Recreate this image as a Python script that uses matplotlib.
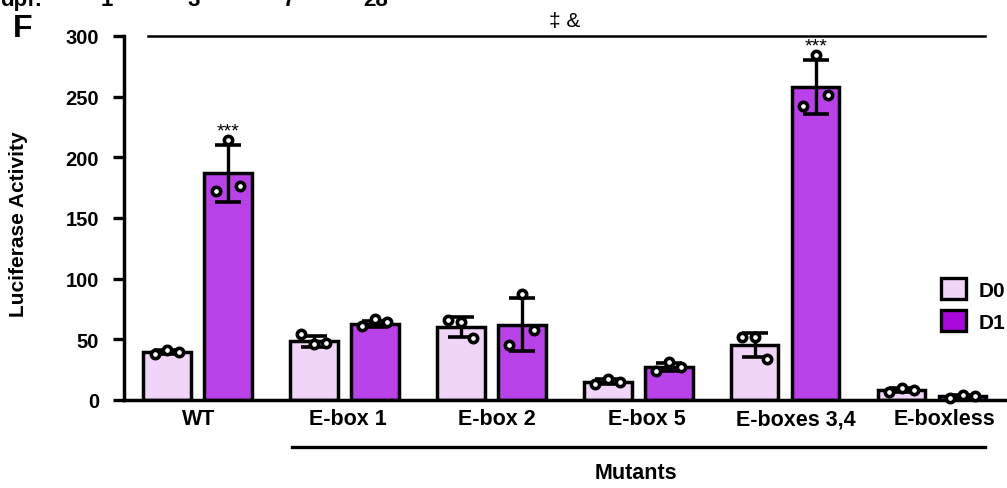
import matplotlib
matplotlib.use('Agg')
import matplotlib.pyplot as plt
import numpy as np
from matplotlib.patches import Patch

plt.rcParams['font.family'] = ['Liberation Sans', 'DejaVu Sans']

categories = ['WT', 'E-box 1', 'E-box 2', 'E-box 5', 'E-boxes 3,4', 'E-boxless']
series = ['D0', 'D1']
d0_mean = [39.5, 48.5, 60, 15, 45.5, 8]
d0_sd = [1.5, 4.5, 8, 2, 10, 1.5]
d1_mean = [187, 63, 62, 27, 258, 3]
d1_sd = [23.5, 2.5, 22, 3.5, 22, 1]
d0_points = [[38, 41, 39.5], [54, 46, 47], [66, 64, 51], [13, 17, 15], [52, 52, 34], [7, 10, 8]]
d1_points = [[172, 214, 176], [61, 67, 64], [45, 87, 58], [24, 31, 27], [242, 284, 251], [2, 4, 3]]
yticks = [0, 50, 100, 150, 200, 250, 300]
dpf_labels = ['dpf:', '1', '3', '7', '28']

c_d0 = '#F0D5F8'
c_d1 = '#B842E8'
c_d1_leg = '#A808D9'

W, H = 1007, 489
fig = plt.figure(figsize=(W / 100, H / 100), dpi=100)
ax = fig.add_axes([124 / W, 1 - 401 / H, 883 / W, 364 / H])

x = np.arange(len(categories))
off = 0.2075
bw = 0.32
lw = 2.5

ax.bar(x - off, d0_mean, bw, color=c_d0, edgecolor='black', linewidth=lw, zorder=2)
ax.bar(x + off, d1_mean, bw, color=c_d1, edgecolor='black', linewidth=lw, zorder=2)
ax.errorbar(x - off, d0_mean, yerr=d0_sd, fmt='none', ecolor='black', elinewidth=2.4,
            capsize=9.5, capthick=2.6, zorder=3)
ax.errorbar(x + off, d1_mean, yerr=d1_sd, fmt='none', ecolor='black', elinewidth=2.4,
            capsize=9.5, capthick=2.6, zorder=3)

jit = np.array([-0.085, 0.0, 0.085])
for i in range(len(categories)):
    ax.plot(x[i] - off + jit, d0_points[i], 'o', ms=6, mfc='white', mec='black', mew=2.6,
            zorder=4, clip_on=False)
    ax.plot(x[i] + off + jit, d1_points[i], 'o', ms=6, mfc='white', mec='black', mew=2.6,
            zorder=4, clip_on=False)

# significance stars
for i in [0, 4]:
    top = max(d1_mean[i] + d1_sd[i], max(d1_points[i]))
    ax.text(x[i] + off, top + 4, '***', ha='center', va='baseline', fontsize=14)

ax.set_xlim(-0.5, 5.507)
ax.set_ylim(0, 300)
ax.set_yticks(yticks)
ax.set_yticklabels([str(t) for t in yticks], fontsize=14.5, fontweight='bold')
ax.tick_params(axis='y', length=8, width=2.4, pad=10)
ax.tick_params(axis='x', length=0, pad=6)
ax.set_xticks(x * 1.015 + 0.01)
ax.set_xticklabels(categories, fontsize=15.5, fontweight='bold')
for s in ['top', 'right']:
    ax.spines[s].set_visible(False)
for s in ['left', 'bottom']:
    ax.spines[s].set_linewidth(2.5)

# top bracket line and markers
ax.plot([-0.337, 5.357], [300, 300], color='black', lw=1.8, clip_on=False)
fig.text(565 / W, 1 - 21 / H, '‡ &', ha='center', va='center', fontsize=15)

# Mutants bracket
fig.add_artist(plt.Line2D([292 / W, 985 / W], [1 - 448 / H, 1 - 448 / H], color='black', lw=2.4))
fig.text(636 / W, 1 - 474 / H, 'Mutants', ha='center', va='center', fontsize=15.5,
         fontweight='bold')

ax.set_ylabel('Luciferase Activity', fontsize=15, fontweight='bold')
ax.yaxis.set_label_coords((28 - 124) / 883, (401 - 224) / 364)

fig.text(13 / W, 1 - 29 / H, 'F', ha='left', va='center', fontsize=23, fontweight='bold')

dpf_x = [0, 101, 187, 283, 363]
for lab, px in zip(dpf_labels, dpf_x):
    fig.text(px / W, 1 - 6 / H, lab, ha='left', va='baseline', fontsize=16, fontweight='bold')

handles = [Patch(facecolor=c_d0, edgecolor='black', linewidth=2.4, label='D0'),
           Patch(facecolor=c_d1_leg, edgecolor='black', linewidth=2.4, label='D1')]
fig.legend(handles=handles, loc='upper left', bbox_to_anchor=(941 / W, 1 - 279 / H),
           frameon=False, prop={'size': 15, 'weight': 'bold'}, handlelength=1.2,
           handleheight=1.2, labelspacing=0.5, handletextpad=0.6, borderpad=0,
           borderaxespad=0)

fig.savefig('out.png', dpi=100)
